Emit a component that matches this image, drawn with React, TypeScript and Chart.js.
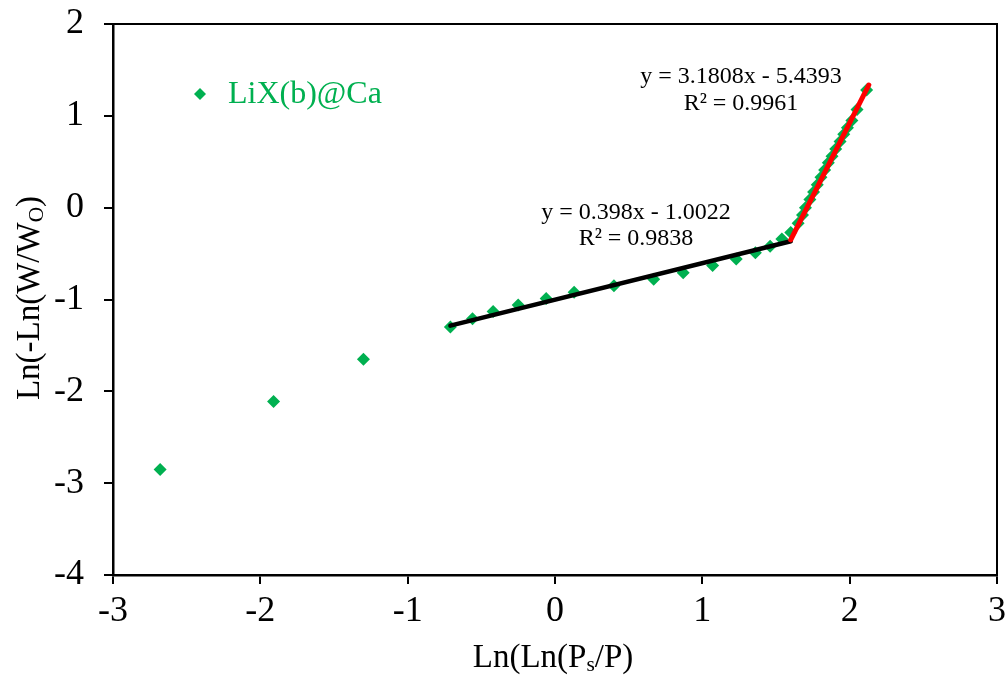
import React, { useEffect, useRef } from "react";
import { Chart, registerables } from "chart.js";

Chart.register(...registerables);

const seriesName = "LiX(b)@Ca";
const xValues = [
  -2.68, -1.91, -1.30,
  -0.71, -0.56, -0.42, -0.25, -0.06, 0.13, 0.40, 0.67, 0.87, 1.07, 1.23, 1.36, 1.46, 1.54,
  1.60, 1.65, 1.68, 1.70, 1.73, 1.755, 1.78, 1.805, 1.83, 1.855, 1.88, 1.905, 1.935, 1.96, 1.985, 2.015, 2.05, 2.115,
];
const yValues = [
  -2.85, -2.11, -1.65,
  -1.30, -1.21, -1.13, -1.06, -0.99, -0.92, -0.85, -0.78, -0.71, -0.63, -0.56, -0.49, -0.42, -0.34,
  -0.27, -0.17, -0.08, 0.0, 0.09, 0.17, 0.25, 0.33, 0.41, 0.49, 0.56, 0.64, 0.72, 0.80, 0.87, 0.95, 1.07, 1.28,
];
// trendline fits: [slope, intercept, xStart, xEnd]
const lowFit = [0.398, -1.0022, -0.71, 1.6];
const highFit = [3.1808, -5.4393, 1.6, 2.13];
const lowLabels = ["y = 0.398x - 1.0022", "R² = 0.9838"];
const highLabels = ["y = 3.1808x - 5.4393", "R² = 0.9961"];
const xTicks = [-3, -2, -1, 0, 1, 2, 3];
const yTicks = [-4, -3, -2, -1, 0, 1, 2];

const GREEN = "#00B050";
const FONT = "'Liberation Serif', 'Times New Roman', serif";

function drawSub(ctx: CanvasRenderingContext2D, parts: [string, boolean][], size: number) {
  let total = 0;
  for (const [t, sub] of parts) {
    ctx.font = `${sub ? size * 0.65 : size}px ${FONT}`;
    total += ctx.measureText(t).width;
  }
  let x = -total / 2;
  for (const [t, sub] of parts) {
    ctx.font = `${sub ? size * 0.65 : size}px ${FONT}`;
    ctx.fillText(t, x, sub ? size * 0.22 : 0);
    x += ctx.measureText(t).width;
  }
}

const overlay = {
  id: "overlay",
  afterDraw(chart: any) {
    const ctx = chart.ctx as CanvasRenderingContext2D;
    const a = chart.chartArea;
    ctx.save();
    ctx.strokeStyle = "#000";
    ctx.lineWidth = 2;
    ctx.beginPath();
    ctx.moveTo(a.left, a.top);
    ctx.lineTo(a.right, a.top);
    ctx.lineTo(a.right, a.bottom);
    ctx.stroke();

    ctx.fillStyle = "#000";
    ctx.textBaseline = "middle";
    ctx.textAlign = "left";
    ctx.save();
    ctx.translate(553, 658);
    drawSub(ctx, [["Ln(Ln(P", false], ["s", true], ["/P)", false]], 33);
    ctx.restore();
    ctx.save();
    ctx.translate(30, 298);
    ctx.rotate(-Math.PI / 2);
    drawSub(ctx, [["Ln(-Ln(W/W", false], ["O", true], [")", false]], 33);
    ctx.restore();

    ctx.textAlign = "center";
    ctx.font = `24px ${FONT}`;
    ctx.fillText(highLabels[0], 741, 77);
    ctx.fillText(highLabels[1], 741, 104);
    ctx.fillText(lowLabels[0], 636, 213);
    ctx.fillText(lowLabels[1], 636, 239);

    ctx.fillStyle = GREEN;
    ctx.beginPath();
    ctx.moveTo(200, 88);
    ctx.lineTo(206, 94);
    ctx.lineTo(200, 100);
    ctx.lineTo(194, 94);
    ctx.closePath();
    ctx.fill();
    ctx.textAlign = "left";
    ctx.font = `32px ${FONT}`;
    ctx.fillText(seriesName, 228, 95);
    ctx.restore();
  },
};

const noPad = (s: any) => {
  s.paddingTop = 0;
  s.paddingBottom = 0;
  s.paddingLeft = 0;
  s.paddingRight = 0;
};

export default function App() {
  const ref = useRef<HTMLCanvasElement | null>(null);
  useEffect(() => {
    if (!ref.current) return;
    const pts = xValues.map((x, i) => ({ x, y: yValues[i] }));
    const line = (f: number[]) => [
      { x: f[2], y: f[0] * f[2] + f[1] },
      { x: f[3], y: f[0] * f[3] + f[1] },
    ];
    const chart = new Chart(ref.current, {
      type: "scatter",
      data: {
        datasets: [
          {
            label: seriesName,
            data: pts,
            pointStyle: "rectRot",
            pointRadius: 6.5,
            backgroundColor: GREEN,
            borderColor: GREEN,
            borderWidth: 0,
            order: 2,
          },
          {
            type: "line",
            label: "fit1",
            data: line(lowFit),
            borderColor: "#000",
            borderWidth: 4.5,
            pointRadius: 0,
            showLine: true,
            borderCapStyle: "round",
            order: 1,
          },
          {
            type: "line",
            label: "fit2",
            data: line(highFit),
            borderColor: "#FF0000",
            borderWidth: 5,
            pointRadius: 0,
            showLine: true,
            borderCapStyle: "round",
            order: 0,
          },
        ],
      } as any,
      options: {
        responsive: false,
        animation: false,
        layout: { padding: { top: 24, right: 11, left: 0, bottom: 0 } },
        plugins: { legend: { display: false }, tooltip: { enabled: false } },
        scales: {
          x: {
            type: "linear",
            min: -3,
            max: 3,
            afterFit: (s: any) => { s.height = 109; noPad(s); },
            afterBuildTicks: (s: any) => { s.ticks = xTicks.map((v) => ({ value: v })); },
            grid: { display: true, drawOnChartArea: false, drawTicks: true, tickLength: 9, color: "#000", lineWidth: 2 },
            border: { display: true, color: "#000", width: 2.5 },
            ticks: { color: "#000", font: { family: FONT, size: 36 }, padding: 6, maxRotation: 0 },
          },
          y: {
            type: "linear",
            min: -4,
            max: 2,
            afterFit: (s: any) => { s.width = 113; noPad(s); },
            afterBuildTicks: (s: any) => { s.ticks = yTicks.map((v) => ({ value: v })); },
            grid: { display: true, drawOnChartArea: false, drawTicks: true, tickLength: 9, color: "#000", lineWidth: 2 },
            border: { display: true, color: "#000", width: 2.5 },
            ticks: { color: "#000", font: { family: FONT, size: 36 }, padding: 20 },
          },
        },
      },
      plugins: [overlay],
    } as any);
    return () => chart.destroy();
  }, []);
  return (
    <div style={{ position: "absolute", left: 0, top: 0, width: 1008, height: 684, background: "#fff" }}>
      <canvas ref={ref} width={1008} height={684} />
    </div>
  );
}
